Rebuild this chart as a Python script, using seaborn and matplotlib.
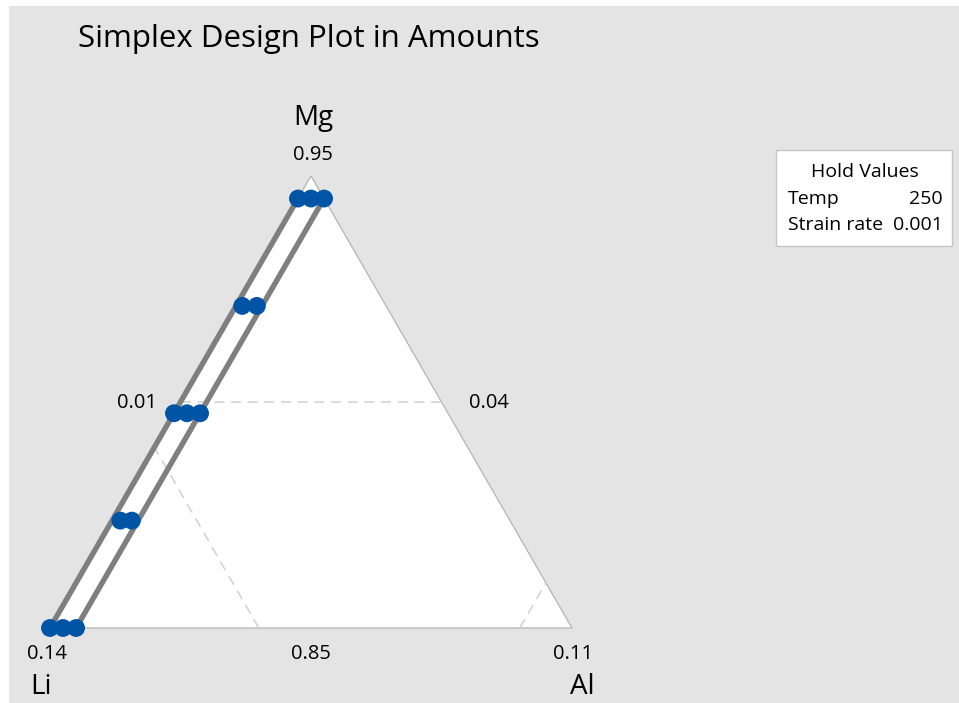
import numpy as np
import pandas as pd
import matplotlib
matplotlib.use("Agg")
import matplotlib.pyplot as plt
from matplotlib.patches import Polygon, Rectangle
import seaborn as sns

# Design points (amounts of each mixture component)
mg = [0.945, 0.945, 0.945, 0.92125, 0.92125, 0.8975, 0.8975, 0.8975,
      0.87375, 0.87375, 0.85, 0.85, 0.85]
li = [0.045, 0.0425, 0.040, 0.06755, 0.06475, 0.0925, 0.090, 0.0875,
      0.11465, 0.11245, 0.140, 0.1375, 0.135]
al = [0.010, 0.0125, 0.015, 0.0112, 0.0140, 0.010, 0.0125, 0.015,
      0.0116, 0.0138, 0.010, 0.0125, 0.015]

# Component bounds of the displayed simplex
lower = {"Mg": 0.85, "Li": 0.04, "Al": 0.01}
upper = {"Mg": 0.95, "Li": 0.14, "Al": 0.11}
span = 0.10

# Constraint lines on Al and the Mg range they cover
al_limits = [0.010, 0.015]
mg_limits = [0.85, 0.945]

# Reference grid lines (amounts)
grid_mg, grid_li, grid_al = 0.90, 0.10, 0.10

hold_names = ["Temp", "Strain rate"]
hold_values = ["250", "0.001"]

W, H = 959, 703
S3 = np.sqrt(3) / 2
INK = "#000000"


def to_xy(m, l, a):
    """Amounts -> cartesian position in the pseudo-component triangle."""
    pm = (np.asarray(m) - lower["Mg"]) / span
    pa = (np.asarray(a) - lower["Al"]) / span
    return pa + 0.5 * pm, pm * S3


def fig_xy(px, py):
    return px / W, 1 - py / H


sns.set_theme(style="white")
plt.rcParams["font.family"] = ["Open Sans", "DejaVu Sans"]

fig = plt.figure(figsize=(W / 100, H / 100), dpi=100)
fig.patch.set_facecolor("white")
fig.patches.append(Rectangle((9 / W, 0), 1, (H - 6) / H, transform=fig.transFigure,
                             facecolor="#e4e4e4", edgecolor="none", zorder=-5))

ax = fig.add_axes([0, 0, 1, 1])
ax.set_zorder(1)
ax.patch.set_alpha(0)

# Simplex triangle
tri = Polygon([[0, 0], [1, 0], [0.5, S3]], closed=True, facecolor="white",
              edgecolor="#b4b4b4", lw=0.9, zorder=1)
ax.add_patch(tri)

dash = dict(color="#d4d4d4", lw=1.2, ls=(0, (6, 4)), zorder=2)
# Mg = const
p = (grid_mg - lower["Mg"]) / span
ax.plot([0.5 * p, 1 - 0.5 * p], [p * S3, p * S3], **dash)
# Li = const
p = (grid_li - lower["Li"]) / span
ax.plot([1 - p, 0.5 * (1 - p)], [0, (1 - p) * S3], **dash)
# Al = const
p = (grid_al - lower["Al"]) / span
ax.plot([p, p + 0.5 * (1 - p)], [0, (1 - p) * S3], **dash)

# Constraint lines
for a_lim in al_limits:
    l_ends = [1 - mg_limits[0] - a_lim, 1 - mg_limits[1] - a_lim]
    x, y = to_xy(mg_limits, l_ends, [a_lim, a_lim])
    ax.plot(x, y, color="#7f7f7f", lw=3.9, solid_capstyle="butt", zorder=3)

# Design points
x, y = to_xy(mg, li, al)
df = pd.DataFrame({"x": x, "y": y})
sns.scatterplot(data=df, x="x", y="y", ax=ax, s=165, color="#0054a6",
                edgecolor="none", linewidth=0, zorder=4, legend=False)
ax.set_xlim(-50 / 522, (W - 50) / 522)
ax.set_ylim(-(H - 628) / 522, 628 / 522)
ax.axis("off")

# Title
fig.text(*fig_xy(78, 39), "Simplex Design Plot in Amounts", fontsize=22.5,
         ha="left", va="center", color=INK)

# Vertex and edge labels
lab = dict(ha="center", va="center", color=INK)
fig.text(*fig_xy(313, 118), "Mg", fontsize=20, **lab)
fig.text(*fig_xy(313, 155), f"{upper['Mg']:.2f}", fontsize=14.5, **lab)
fig.text(*fig_xy(47, 654), f"{upper['Li']:.2f}", fontsize=14.5, **lab)
fig.text(*fig_xy(311, 654), f"{lower['Mg']:.2f}", fontsize=14.5, **lab)
fig.text(*fig_xy(573, 654), f"{upper['Al']:.2f}", fontsize=14.5, **lab)
fig.text(*fig_xy(137, 403), f"{lower['Al']:.2f}", fontsize=14.5, **lab)
fig.text(*fig_xy(489, 403), f"{lower['Li']:.2f}", fontsize=14.5, **lab)
fig.text(*fig_xy(41, 687), "Li", fontsize=20, **lab)
fig.text(*fig_xy(582, 687), "Al", fontsize=20, **lab)

# Hold values box
x0, y0 = fig_xy(776, 246)
x1, y1 = fig_xy(952, 150)
fig.patches.append(Rectangle((x0, y0), x1 - x0, y1 - y0, transform=fig.transFigure,
                             facecolor="white", edgecolor="#c4c4c4", lw=1.0, zorder=-1))
fig.text(*fig_xy(865, 172), "Hold Values", fontsize=14, **lab)
for i, (n, v) in enumerate(zip(hold_names, hold_values)):
    yy = 199 + 26 * i
    fig.text(*fig_xy(788, yy), n, fontsize=14, ha="left", va="center", color=INK)
    fig.text(*fig_xy(943, yy), v, fontsize=14, ha="right", va="center", color=INK)

fig.savefig("out.png", dpi=100)
